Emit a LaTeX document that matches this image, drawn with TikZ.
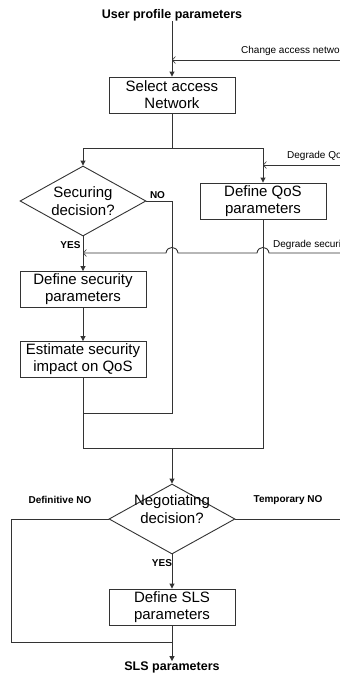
\documentclass[tikz,border=0pt]{standalone}
\usepackage{fontspec}
\setmainfont{Liberation Sans}
\usetikzlibrary{arrows.meta,shapes.geometric}
\tikzset{
  ln/.style={draw=black!80, line width=0.9pt},
  arr/.style={ln, -{Triangle[length=5pt,width=5pt]}},
  fb/.style={ln, -{Straight Barb[length=3pt,width=7pt,line width=0.6pt]}},
  procbox/.style={ln, rectangle, minimum width=126pt, minimum height=36pt, inner sep=0pt,
    align=center, font=\fontsize{15}{17}\selectfont},
  decbox/.style={ln, diamond, minimum width=126pt, minimum height=70pt, inner sep=0pt, aspect=1.8},
  dectext/.style={align=center, font=\fontsize{15}{17.5}\selectfont, inner sep=0pt},
  biglbl/.style={font=\fontsize{12.5}{14}\selectfont\bfseries, inner sep=0pt},
  smlbl/.style={font=\fontsize{10}{12}\selectfont\bfseries, inner sep=0pt},
  fblbl/.style={font=\fontsize{10}{12}\selectfont, inner sep=0pt, anchor=west}
}
\begin{document}
\begin{tikzpicture}[x=1pt,y=-1pt]
\clip (0,0) rectangle (340,673);
\fill[white] (0,0) rectangle (340,673);

% nodes
\node[biglbl] (upp) at (172,15) {User profile parameters};
\node[procbox] (sel) at (172,95) {Select access\\Network};
\node[decbox] (sec) at (83,201) {};
\node[dectext] (sectext) at (83,201) {Securing\\decision?};
\node[procbox] (qos) at (263,201) {Define QoS\\parameters};
\node[procbox] (dsec) at (83,289.5) {Define security\\parameters};
\node[procbox] (est) at (83,359.5) {Estimate security\\impact on QoS};
\node[decbox] (neg) at (172,519) {};
\node[dectext] (negtext) at (172,509) {Negotiating\\decision?};
\node[procbox] (dsls) at (172,607) {Define SLS\\parameters};
\node[biglbl] (slsp) at (172,667) {SLS parameters};

% labels
\node[fblbl] (lchg) at (241,51) {Change access network};
\node[fblbl] (ldq) at (287,156) {Degrade QoS};
\node[fblbl] (lds) at (273,245) {Degrade security};
\node[smlbl] (lno) at (157.5,195) {NO};
\node[smlbl] (lyes1) at (70.5,245) {YES};
\node[smlbl] (ldef) at (60,500) {Definitive NO};
\node[smlbl] (ltmp) at (288,500) {Temporary NO};
\node[smlbl] (lyes2) at (162,563) {YES};

% coordinates
\coordinate (chgR) at (345,60);
\coordinate (chgJ) at (172,60);
\coordinate (split) at (172,148);
\coordinate (dqR) at (345,165);
\coordinate (dqJ) at (263,165);
\coordinate (noA) at (172,201);
\coordinate (noB) at (172,413);
\coordinate (noJ) at (83,413);
\coordinate (dsR) at (345,253);
\coordinate (dsJ) at (83,253);
\coordinate (m1) at (83,448);
\coordinate (merge) at (172,448);
\coordinate (dnA) at (11,519);
\coordinate (dnB) at (11,642);
\coordinate (dnJ) at (172,642);
\coordinate (tnR) at (345,519);

% connectors
\draw[arr] (upp.south) -- (sel.north);
\draw[fb] (chgR) -- (chgJ);
\draw[ln] (sel.south) -- (split);
\draw[arr] (split) -| (sec.north);
\draw[arr] (split) -| (qos.north);
\draw[fb] (dqR) -- (dqJ);
\draw[ln] (sec.east) -- (noA) -- (noB) -- (noJ);
\draw[fb] (dsR) -- (269,253) .. controls (268,245.5) and (258,245.5) .. (257,253)
  -- (178,253) .. controls (177,245.5) and (167,245.5) .. (166,253) -- (dsJ);
\draw[arr] (sec.south) -- (dsec.north);
\draw[arr] (dsec.south) -- (est.north);
\draw[ln] (est.south) -- (m1) -| (qos.south);
\draw[arr] (merge) -- (neg.north);
\draw[ln] (neg.west) -- (dnA) -- (dnB) -- (dnJ);
\draw[ln] (neg.east) -- (tnR);
\draw[arr] (neg.south) -- (dsls.north);
\draw[arr] (dsls.south) -- (slsp.north);
\end{tikzpicture}
\end{document}
